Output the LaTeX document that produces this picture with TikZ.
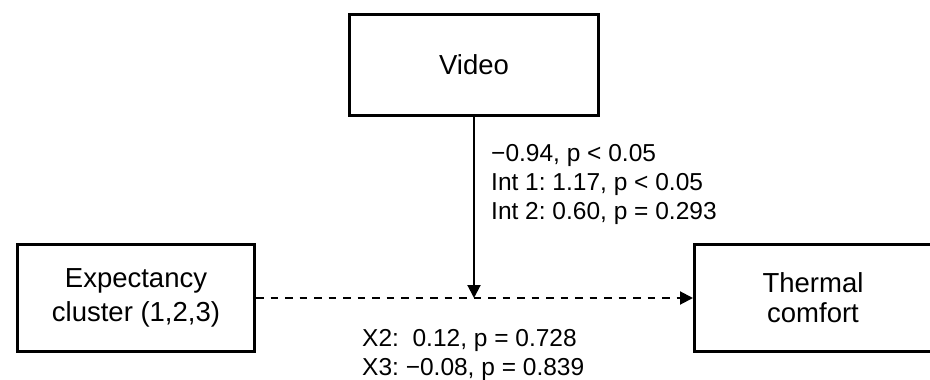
\documentclass[tikz,border=0pt]{standalone}
\usepackage{fontspec}
\setmainfont{Liberation Sans}
\usetikzlibrary{arrows.meta}
\frenchspacing
\begin{document}
\begin{tikzpicture}[x=1pt,y=-1pt,
  box/.style={draw, line width=3pt, inner sep=0pt, align=center, font=\fontsize{27.5}{32}\selectfont},
  ann/.style={inner sep=0pt, align=left, font=\fontsize{24.5}{29}\selectfont},
  conn/.style={line width=2pt, -{Triangle[length=13pt,width=13pt]}}]
\useasboundingbox (0,0) rectangle (930,380);
\node[box, minimum width=249pt, minimum height=101pt] (video) at (474,65) {Video};
\node[box, minimum width=237pt, minimum height=107pt, font=\fontsize{27.5}{34}\selectfont] (exp) at (136,298) {Expectancy\\cluster (1,2,3)};
\node[box, minimum width=237pt, minimum height=107pt, font=\fontsize{27.5}{30}\selectfont] (therm) at (813,298) {Thermal\\comfort};
\coordinate (mid) at (video.south |- exp.east);
\draw[conn] (video.south) -- (mid);
\draw[conn, dash pattern=on 7.5pt off 7pt] (exp.east) -- (therm.west);
\node[ann, anchor=north west] (coef) at (491,144.5) {−0.94, p < 0.05\\Int 1: 1.17, p < 0.05\\Int 2: 0.60, p = 0.293};
\node[ann, anchor=north west] (xcoef) at (362,329.5) {X2:\ \ 0.12, p = 0.728\\X3: −0.08, p = 0.839};
\end{tikzpicture}
\end{document}
